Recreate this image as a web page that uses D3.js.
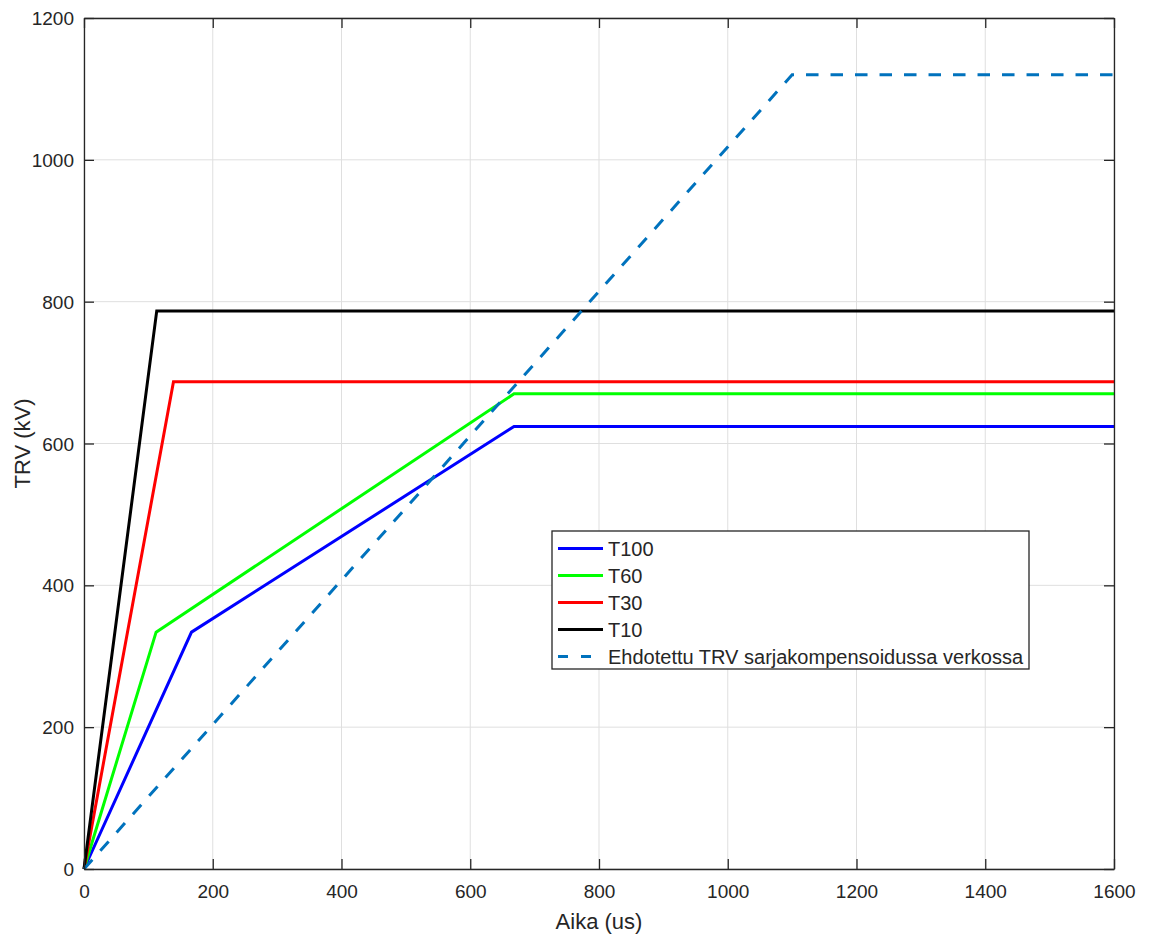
<!DOCTYPE html>
<html>
<head>
<meta charset="utf-8">
<script src="https://d3js.org/d3.v7.min.js"></script>
<style>
  body { margin: 0; background: #fff; }
  text { font-family: "Liberation Sans", Arial, sans-serif; fill: #262626; }
</style>
</head>
<body>
<div id="chart"></div>
<script>
// data (time in us, TRV in kV)
var t100 = [[0, 0], [167, 334], [668, 624], [1600, 624]];
var t60 = [[0, 0], [112, 334], [668, 670], [1600, 670]];
var t30 = [[0, 0], [139, 687], [1600, 687]];
var t10 = [[0, 0], [113, 787], [1600, 787]];
var ehdotettu = [[0, 0], [1100, 1120], [1600, 1120]];

var seriesNames = ["T100", "T60", "T30", "T10", "Ehdotettu TRV sarjakompensoidussa verkossa"];
var seriesColors = ["#0000ff", "#00ff00", "#ff0000", "#000000", "#0072bd"];
var xTicks = [0, 200, 400, 600, 800, 1000, 1200, 1400, 1600];
var yTicks = [0, 200, 400, 600, 800, 1000, 1200];

var W = 1149, H = 935;
var margin = {top: 18, right: 35, bottom: 66, left: 84},
    width = W - margin.left - margin.right,
    height = H - margin.top - margin.bottom;

var svg = d3.select("#chart").append("svg")
    .attr("width", W)
    .attr("height", H)
  .append("g")
    .attr("transform", "translate(" + margin.left + "," + margin.top + ")");

var x = d3.scaleLinear().domain([0, 1600]).range([0, width]);
var y = d3.scaleLinear().domain([0, 1200]).range([height, 0]);

// grid
svg.append("g").selectAll("line").data(xTicks).enter().append("line")
  .attr("x1", d => x(d)).attr("x2", d => x(d))
  .attr("y1", 0).attr("y2", height)
  .attr("stroke", "#dfdfdf").attr("stroke-width", 1);
svg.append("g").selectAll("line").data(yTicks).enter().append("line")
  .attr("x1", 0).attr("x2", width)
  .attr("y1", d => y(d)).attr("y2", d => y(d))
  .attr("stroke", "#dfdfdf").attr("stroke-width", 1);

// lines
var line = d3.line().x(d => x(d[0])).y(d => y(d[1]));
var allSeries = [t100, t60, t30, t10, ehdotettu];

svg.append("g").selectAll("path").data(allSeries).enter().append("path")
  .attr("d", line)
  .attr("fill", "none")
  .attr("stroke", (d, i) => seriesColors[i])
  .attr("stroke-width", 3)
  .attr("stroke-dasharray", (d, i) => i == 4 ? "12.5,12" : null);

// axes, ticks pointing inside like matlab
var fmt = d3.format("d");
var xAxis = svg.append("g")
  .attr("transform", "translate(0," + height + ")")
  .call(d3.axisBottom(x).tickValues(xTicks).tickFormat(fmt).tickSizeInner(-10).tickSizeOuter(0));
var yAxis = svg.append("g")
  .call(d3.axisLeft(y).tickValues(yTicks).tickFormat(fmt).tickSizeInner(-10).tickSizeOuter(0));
svg.append("g")
  .call(d3.axisTop(x).tickValues(xTicks).tickSizeInner(-10).tickSizeOuter(0).tickFormat(""));
svg.append("g")
  .attr("transform", "translate(" + width + ",0)")
  .call(d3.axisRight(y).tickValues(yTicks).tickSizeInner(-10).tickSizeOuter(0).tickFormat(""));

svg.selectAll(".domain, .tick line").attr("stroke", "#262626").attr("stroke-width", 1.3);
svg.selectAll(".tick text").style("font-size", "19px").attr("fill", "#262626");
yAxis.selectAll(".tick text").attr("x", -10).attr("dy", "0.35em");
xAxis.selectAll(".tick text").attr("y", 29).attr("dy", 0);

// axis labels
svg.append("text")
  .attr("x", width / 2).attr("y", height + 60)
  .attr("text-anchor", "middle")
  .style("font-size", "22px")
  .text("Aika (us)");
svg.append("text")
  .attr("transform", "translate(-54," + (height / 2) + ") rotate(-90)")
  .attr("text-anchor", "middle")
  .style("font-size", "22px")
  .text("TRV (kV)");

// legend
var legend = svg.append("g").attr("transform", "translate(" + (552 - margin.left) + "," + (531 - margin.top) + ")");
legend.append("rect")
  .attr("width", 477).attr("height", 138)
  .attr("fill", "#fff").attr("stroke", "#262626").attr("stroke-width", 1.3);
var items = legend.selectAll("g").data(seriesNames).enter().append("g")
  .attr("transform", (d, i) => "translate(0," + (17.5 + i * 27) + ")");
items.append("line")
  .attr("x1", 6).attr("x2", 51)
  .attr("stroke", (d, i) => seriesColors[i])
  .attr("stroke-width", 3)
  .attr("stroke-dasharray", (d, i) => i == 4 ? "10,13" : null);
items.append("text")
  .attr("x", 56).attr("dy", "0.36em")
  .style("font-size", "20px")
  .text(d => d);
</script>
</body>
</html>
